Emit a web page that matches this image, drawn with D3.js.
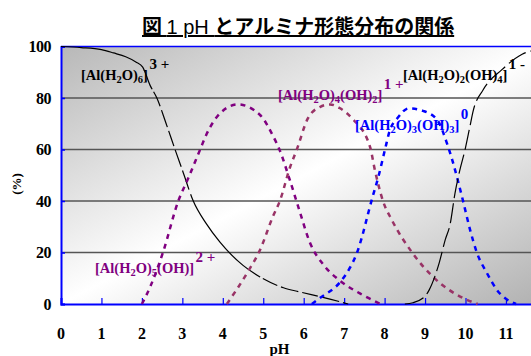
<!DOCTYPE html>
<html><head><meta charset="utf-8">
<script src="https://cdn.jsdelivr.net/npm/d3@7"></script>
<style>
html,body{margin:0;padding:0;background:#fff;}
svg{display:block;}
</style></head>
<body>
<script>
// ---- data ----
const xTicks = [0,1,2,3,4,5,6,7,8,9,10,11];
const yTicks = [0,20,40,60,80,100];
const gridValues = [20,40,60,80];

const s3plus = [[0,100],[0.5,99.6],[1,98.8],[1.3,97.5],[1.6,96],[1.85,94],[2.02,92],[2.2,85],[2.37,80],[2.6,70],[2.82,60],[3.0,52],[3.27,40],[3.6,31],[3.93,24],[4.5,15],[4.92,10.5],[5.5,6.3],[5.9,4.7],[6.5,2.5],[7.1,0]];
const s2plus = [[2.0,0],[2.2,6.5],[2.52,20],[2.9,40],[3.15,49],[3.44,60],[3.6,66],[3.93,74],[4.37,77.5],[4.92,73.4],[5.25,65],[5.4,60],[5.66,48],[5.9,36],[6.15,24],[6.5,15],[6.9,9],[7.4,4],[7.9,0]];
const s1plus = [[4.1,0],[4.6,12],[4.92,21],[5.24,34],[5.41,40],[5.66,53],[5.83,60],[6.1,72],[6.4,76.5],[6.65,77.5],[6.9,76],[7.2,72],[7.64,61],[7.76,52],[7.96,40],[8.18,32.6],[8.68,20],[9.2,10.5],[9.94,2.3],[10.3,0]];
const s0 = [[6.2,0],[6.4,2.3],[6.9,8.5],[7.14,14],[7.32,20],[7.44,26],[7.59,35],[7.71,42],[7.84,49],[8.01,60],[8.13,67.5],[8.31,72],[8.6,76],[8.95,75],[9.3,71.5],[9.54,62.5],[9.69,55],[9.81,48],[9.94,40],[10.11,29],[10.28,20],[10.53,12],[10.78,5.4],[11.1,1],[11.25,0]];
const s1minus = [[8.5,0],[8.7,0.5],[9.0,3],[9.1,5.4],[9.35,16],[9.5,25],[9.62,31],[9.74,43],[9.86,52],[9.99,60],[10.11,69],[10.19,75],[10.43,83],[10.9,91],[11.4,97],[11.8,99],[12,100]];

const titleParts = [["図 ",1],["1 pH ",0],["とアルミナ形態分布の関係",1]];
const xTitle = "pH";
const yTitle = "(%)";

// label parts: [text, isSub]
const lab3plus  = [["[Al(H",0],["2",1],["O)",0],["6",1],["]",0]];
const lab2plus  = [["[Al(H",0],["2",1],["O)",0],["5",1],["(OH)]",0]];
const lab1plus  = [["[Al(H",0],["2",1],["O)",0],["4",1],["(OH)",0],["2",1],["]",0]];
const lab0      = [["[Al(H",0],["2",1],["O)",0],["3",1],["(OH)",0],["3",1],["]",0]];
const lab1minus = [["[Al(H",0],["2",1],["O)",0],["2",1],["(OH)",0],["4",1],["]",0]];
const charges = ["3 +","2 +","1 +","0","1 -"];

// ---- drawing ----
const W = 531, H = 356;
const svg = d3.select("body").append("svg").attr("width",W).attr("height",H);

const x = d3.scaleLinear().domain([0,12]).range([61, 61 + 12*40.45]);
const y = d3.scaleLinear().domain([0,100]).range([304, 46.5]);

const defs = svg.append("defs");
const grad = defs.append("linearGradient").attr("id","bg")
  .attr("x1","0").attr("y1","0").attr("x2","1").attr("y2","1");
grad.append("stop").attr("offset","0").attr("stop-color","#b8b8b8");
grad.append("stop").attr("offset","0.5").attr("stop-color","#ffffff");
grad.append("stop").attr("offset","1").attr("stop-color","#b0b0b0");

const x0 = x(0), x1 = x(12), yTop = y(100), yBot = y(0);
svg.append("rect").attr("x",x0).attr("y",yTop).attr("width",x1-x0).attr("height",yBot-yTop)
  .attr("fill","url(#bg)");

// gridlines
svg.append("g").selectAll("line").data(gridValues).join("line")
  .attr("x1",x0).attr("x2",x1).attr("y1",d=>y(d)).attr("y2",d=>y(d))
  .attr("stroke","#555").attr("stroke-width",1.5);

// borders
svg.append("line").attr("x1",x0).attr("x2",x1).attr("y1",yTop).attr("y2",yTop)
  .attr("stroke","#0000ff").attr("stroke-width",1.5);

// axes
const xAxis = d3.axisBottom(x).tickValues(xTicks).tickSize(-6).tickFormat("");
const gx = svg.append("g").attr("transform",`translate(0,${yBot})`).call(xAxis);
gx.select(".domain").attr("stroke","#0000ff").attr("stroke-width",2);
gx.selectAll(".tick line").attr("stroke","#0000ff").attr("stroke-width",1.2);

const yAxis = d3.axisLeft(y).tickValues(yTicks).tickSize(-4).tickFormat("");
const gy = svg.append("g").attr("transform",`translate(${x0},0)`).call(yAxis);
gy.select(".domain").attr("stroke","#0000ff").attr("stroke-width",2);
gy.selectAll(".tick line").attr("stroke","#0000ff").attr("stroke-width",1.5);

// tick labels
const serif = "'Liberation Serif','Times New Roman',serif";
svg.append("g").selectAll("text").data(xTicks).join("text")
  .attr("x",d=>x(d)).attr("y",339).attr("text-anchor","middle")
  .attr("font-family",serif).attr("font-weight","bold").attr("font-size",16)
  .text(d=>d);
svg.append("g").selectAll("text").data(yTicks).join("text")
  .attr("x",51).attr("y",d=>y(d)+5.5).attr("text-anchor","end")
  .attr("font-family",serif).attr("font-weight","bold").attr("font-size",16)
  .attr("letter-spacing","-0.5")
  .text(d=>d);

svg.append("text").attr("x",x(5.4)).attr("y",354).attr("text-anchor","middle")
  .attr("font-family",serif).attr("font-weight","bold").attr("font-size",15).text(xTitle);
svg.append("text").attr("transform","translate(21,184) rotate(-90)").attr("text-anchor","middle")
  .attr("font-family",serif).attr("font-weight","bold").attr("font-size",13).text(yTitle);

// title
const tt = svg.append("text").attr("x",142).attr("y",34)
  .attr("font-family","'Noto Sans CJK JP','Noto Sans',sans-serif")
  .attr("font-size",20).attr("text-decoration","underline");
titleParts.forEach(p=>{
  const s = tt.append("tspan").text(p[0]).attr("font-weight", p[1] ? "bold" : "normal");
  if(!p[1]) s.attr("font-family","'Liberation Sans',Arial,sans-serif");
});

// curves
const line = d3.line().x(d=>x(d[0])).y(d=>y(d[1])).curve(d3.curveMonotoneX);
const plot = svg.append("g");
plot.append("path").datum(s3plus).attr("d",line).attr("fill","none")
  .attr("stroke","#000").attr("stroke-width",1.2).attr("stroke-dasharray","110,3,16,4,18,4,16,4,18,4,20,5");
plot.append("path").datum(s2plus).attr("d",line).attr("fill","none")
  .attr("stroke","#800080").attr("stroke-width",2.5).attr("stroke-dasharray","5,5");
plot.append("path").datum(s1plus).attr("d",line).attr("fill","none")
  .attr("stroke","#993366").attr("stroke-width",2.5).attr("stroke-dasharray","5,5");
plot.append("path").datum(s0).attr("d",line).attr("fill","none")
  .attr("stroke","#0000ff").attr("stroke-width",2.5).attr("stroke-dasharray","5,5");
plot.append("path").datum(s1minus).attr("d",line).attr("fill","none")
  .attr("stroke","#000").attr("stroke-width",1.2).attr("stroke-dasharray","20,5");

// species labels
function label(parts, charge, xs, yb, ys, color){
  const t = svg.append("text").attr("x",xs).attr("y",yb)
    .attr("font-family",serif).attr("font-weight","bold").attr("font-size",14.5)
    .attr("fill",color);
  let shift = 0;
  parts.forEach(p=>{
    const target = p[1] ? 3 : 0;
    const ts = t.append("tspan").text(p[0]).attr("dy", target - shift);
    if(p[1]) ts.attr("font-size",10.5);
    shift = target;
  });
  const bb = t.node().getBBox();
  svg.append("text").attr("x",bb.x + bb.width + 1.5).attr("y",ys)
    .attr("font-family",serif).attr("font-weight","bold").attr("font-size",15)
    .attr("fill",color).style("white-space","pre").text(charge);
}
label(lab3plus, charges[0], 81, 80, 69, "#000");
label(lab2plus, charges[1], 95, 273, 262, "#800080");
label(lab1plus, charges[2], 278, 100, 89, "#800080");
label(lab0, charges[3], 355, 130, 119, "#0000ff");
label(lab1minus, charges[4], 403, 80, 69, "#000");
</script>
</body></html>
